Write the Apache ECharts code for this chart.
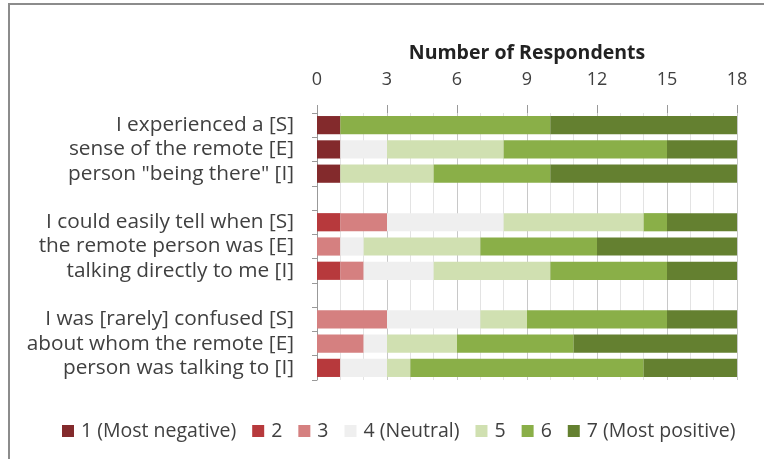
<!DOCTYPE html>
<html><head><meta charset="utf-8">
<script src="https://cdn.jsdelivr.net/npm/echarts@6/dist/echarts.min.js"></script>
<style>html,body{margin:0;padding:0;background:#fff}#c{width:764px;height:459px}</style>
</head><body><div id="c"></div>
<script>
const categories = ['I experienced a [S]','sense of the remote [E]','person "being there" [I]','',
  'I could easily tell when [S]','the remote person was [E]','talking directly to me [I]','',
  'I was [rarely] confused [S]','about whom the remote [E]','person was talking to [I]'];
const seriesNames = ['1 (Most negative)','2','3','4 (Neutral)','5','6','7 (Most positive)'];
const s1 = [1,1,1,null,0,0,0,null,0,0,0];
const s2 = [0,0,0,null,1,0,1,null,0,0,1];
const s3 = [0,0,0,null,2,1,1,null,3,2,0];
const s4 = [0,2,0,null,5,1,3,null,4,1,2];
const s5 = [0,5,4,null,6,5,5,null,2,3,1];
const s6 = [9,7,5,null,1,5,5,null,6,5,10];
const s7 = [8,3,8,null,3,6,3,null,3,7,4];
const values = [s1,s2,s3,s4,s5,s6,s7];
const colors = ['#832a2c','#b7393c','#d58080','#efefef','#d0e0b1','#8aaf48','#648030'];
const FONT = "'Open Sans', sans-serif";
const chart = echarts.init(document.getElementById('c'), null, {renderer:'canvas'});
chart.setOption({
  animation:false,
  textStyle:{fontFamily:FONT, color:'#404040'},
  grid:{left:317, right:27, top:113, bottom:79, containLabel:false},
  legend:{
    top:416, left:57, itemWidth:12, itemHeight:12, itemGap:16, icon:'rect',
    textStyle:{fontSize:19.5, color:'#404040', fontFamily:FONT, padding:[0,0,0,2]},
    data:seriesNames
  },
  xAxis:{
    type:'value', position:'top', min:0, max:18, interval:3,
    name:'Number of Respondents', nameLocation:'middle', nameGap:50,
    nameTextStyle:{fontSize:19.5, fontWeight:'bold', color:'#222', fontFamily:FONT},
    axisLine:{show:false},
    axisTick:{show:true, length:8, lineStyle:{color:'#999'}},
    axisLabel:{fontSize:18, color:'#404040', margin:24, fontFamily:FONT},
    splitLine:{show:true, lineStyle:{color:'#c8c8c8'}},
    minorTick:{show:false, splitNumber:3},
    minorSplitLine:{show:true, lineStyle:{color:'#e3e3e3'}}
  },
  yAxis:{
    type:'category', inverse:true, data:categories,
    axisLine:{show:true, lineStyle:{color:'#999'}},
    axisTick:{show:true, length:5, interval:0, lineStyle:{color:'#999'}},
    axisLabel:{fontSize:20.8, lineHeight:20, interval:0, hideOverlap:false, color:'#404040', margin:23, fontFamily:FONT}
  },
  series: values.map((v,i)=>({
    name:seriesNames[i], type:'bar', stack:'total', data:v,
    barCategoryGap:'25%', itemStyle:{color:colors[i]}
  })),
  graphic:[{type:'rect', shape:{x:9, y:4, width:900, height:600}, style:{fill:null, stroke:'#8c8c8c', lineWidth:2}, silent:true}]
});
</script></body></html>
